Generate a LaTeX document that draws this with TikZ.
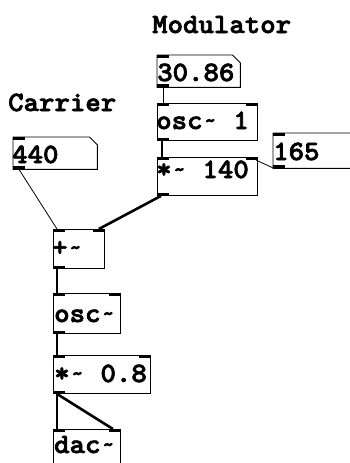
\documentclass[tikz,border=0pt]{standalone}
\usepackage{fontspec}
\newfontfamily\pdfont[FakeBold=2.4]{lmmonolt10-bold.otf}
% the patcher draws a small tilde, still one character cell wide
\newcommand\tld{\makebox[0.525em][c]{\raisebox{0.06em}{\scalebox{0.78}{\char126}}}}
% widen the typewriter face to the patcher's cell width
\newcommand\pd[1]{\scalebox{1.05}[1]{#1}}
\begin{document}
\begin{tikzpicture}[x=1pt,y=-1pt,
  obj/.style={draw=black, line width=0.9pt, inner sep=0pt, anchor=north west},
  numbox/.style={draw=none, inner sep=0pt, anchor=north west},
  txt/.style={inner sep=0pt, anchor=base west,
    font=\pdfont\fontsize{28}{28}\selectfont},
  ctl/.style={line width=0.8pt},
  sig/.style={line width=2.6pt},
  port/.style={fill=black, draw=none}]
\useasboundingbox (0,0) rectangle (350,463);
\fill[white] (0,0) rectangle (350,463);
\clip (0,0) rectangle (350,463);

% section headings
\node[txt] (modlabel) at (152,33) {\pd{Modulator}};
\node[txt] (carlabel) at (8,111) {\pd{Carrier}};

% number boxes
\node[numbox, minimum width=83pt, minimum height=32pt] (n30) at (157,55) {};
\node[numbox, minimum width=84pt, minimum height=32pt] (n440) at (13,137) {};
\node[numbox, minimum width=90pt, minimum height=35pt] (n165) at (273,133) {};
\foreach \n in {n30,n440,n165}{
  \draw[line width=0.9pt] (\n.north west) -- ([xshift=-8pt]\n.north east)
    -- ([yshift=-8pt]\n.north east) -- (\n.south east) -- (\n.south west) -- cycle;
}

% object boxes
\node[obj, minimum width=100pt, minimum height=37pt] (osc1) at (157,103) {};
\node[obj, minimum width=100pt, minimum height=38pt] (mul140) at (157,157) {};
\node[obj, minimum width=51pt, minimum height=39pt] (add) at (53,229) {};
\node[obj, minimum width=67pt, minimum height=40pt] (osc) at (53,293) {};
\node[obj, minimum width=97pt, minimum height=38pt] (mul08) at (53,355) {};
\node[obj, minimum width=67pt, minimum height=45pt] (dac) at (53,429) {};

% box contents
\node[txt] (t30) at (157,81) {\pd{30.86}};
\node[txt] (t440) at (12,163) {\pd{440}};
\node[txt] (t165) at (273,160) {\pd{165}};
\node[txt] (tosc1) at (156,129) {\pd{osc\tld{} 1}};
\node[txt] (tmul140) at (156,178) {\pd{*\tld{} 140}};
\node[txt] (tadd) at (52,256) {\pd{+\tld}};
\node[txt] (tosc) at (54,322) {\pd{osc\tld}};
\node[txt] (tmul08) at (54,382) {\pd{*\tld{} 0.8}};
\node[txt] (tdac) at (54,453) {\pd{dac\tld}};

% inlets (top) and outlets (bottom)
\foreach \n in {n30,n440,n165,osc1,mul140,add,osc,mul08,dac}{
  \fill[port] (\n.north west) rectangle ([xshift=12pt,yshift=-3pt]\n.north west);
}
\foreach \n in {osc1,mul140,add,osc,mul08,dac}{
  \fill[port] (\n.north east) rectangle ([xshift=-12pt,yshift=-3pt]\n.north east);
}
\foreach \n in {n30,n440,n165,osc1,mul140,add,osc,mul08}{
  \fill[port] (\n.south west) rectangle ([xshift=12pt,yshift=3pt]\n.south west);
}

% control connections
\draw[ctl] ([xshift=6pt]n30.south west) -- ([xshift=6pt]osc1.north west);
\draw[ctl] ([xshift=1pt]n165.south west) -- ([xshift=-2pt,yshift=-3pt]mul140.north east);
\draw[ctl] ([xshift=6pt]n440.south west) -- ([xshift=4pt]add.north west);

% signal connections
\draw[sig] ([xshift=5pt]osc1.south west) -- ([xshift=5pt]mul140.north west);
\draw[sig] ([xshift=4pt]mul140.south west) -- ([xshift=-6pt]add.north east);
\draw[sig] ([xshift=4pt]add.south west) -- ([xshift=4pt]osc.north west);
\draw[sig] ([xshift=4pt]osc.south west) -- ([xshift=4pt]mul08.north west);
\draw[sig] ([xshift=4pt]mul08.south west) -- ([xshift=4pt]dac.north west);
\draw[sig] ([xshift=4pt]mul08.south west) -- ([xshift=-8pt]dac.north east);
\end{tikzpicture}
\end{document}
